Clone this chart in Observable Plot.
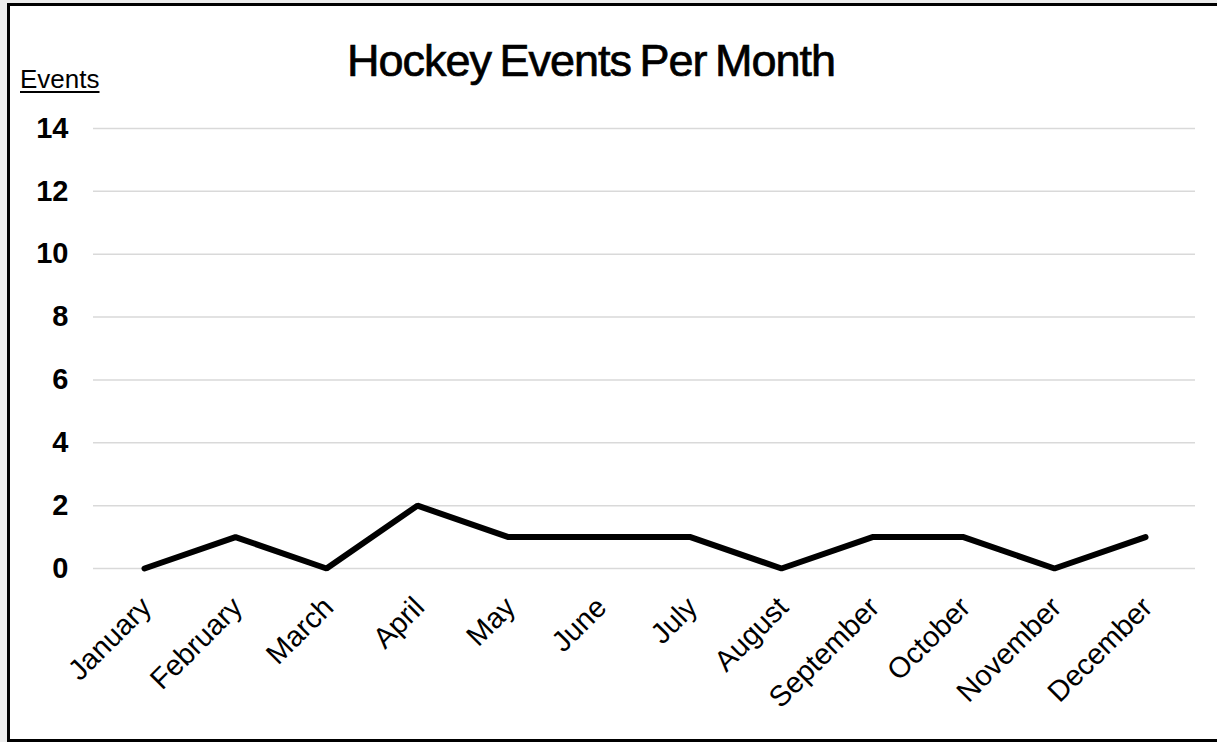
<!DOCTYPE html>
<html>
<head>
<meta charset="utf-8">
<script src="https://cdn.jsdelivr.net/npm/d3@7"></script>
<script src="https://cdn.jsdelivr.net/npm/@observablehq/plot@0.6"></script>
<style>
  html, body { margin: 0; padding: 0; }
  body { width: 1217px; height: 742px; background: #ececec; position: relative; overflow: hidden;
         font-family: "Liberation Sans", Arial, Helvetica, sans-serif; }
  #frame { position: absolute; left: 7px; top: 3px; width: 1213px; height: 739px; box-sizing: border-box;
           border: 3px solid #000; background: #fff; }
  #title { position: absolute; left: 591px; top: 38px; transform: translateX(-50%); white-space: nowrap;
           font-size: 45px; line-height: 45px; letter-spacing: -1px; word-spacing: -3px; color: #000;
           -webkit-text-stroke: 0.7px #000; }
  #ylabel { position: absolute; left: 20px; top: 66px; font-size: 26px; line-height: 26px;
            text-decoration: underline; text-underline-offset: 3px; text-decoration-thickness: 2px; color: #000; }
  #chart { position: absolute; left: 0; top: 0; }
  #chart svg { overflow: visible; }
  g[aria-label="y-axis tick label"] text { font-weight: bold !important; font-size: 29px !important; }
  g[aria-label="x-axis tick label"] text { font-size: 29px !important; }
</style>
</head>
<body>
<div id="frame"></div>
<div id="chart"></div>
<div id="title">Hockey Events Per Month</div>
<div id="ylabel">Events</div>
<script>
const months = ["January","February","March","April","May","June","July","August","September","October","November","December"];
const events = [0, 1, 0, 2, 1, 1, 1, 0, 1, 1, 0, 1];
const yTicks = [0, 2, 4, 6, 8, 10, 12, 14];

const data = months.map((m, i) => ({month: m, events: events[i]}));

const chart = Plot.plot({
  width: 1217,
  height: 742,
  marginLeft: 93,
  marginRight: 22,
  marginTop: 128,
  marginBottom: 174,
  style: {background: "transparent", fontFamily: "'Liberation Sans', Arial, Helvetica, sans-serif", color: "#000"},
  x: {type: "point", domain: months, padding: 0.5},
  y: {domain: [0, 14]},
  marks: [
    Plot.ruleY(yTicks, {stroke: "#d9d9d9", strokeWidth: 1.5}),
    Plot.axisY(yTicks, {tickSize: 0, tickPadding: 25, fontSize: 29, fontWeight: "bold", label: null, fill: "#000"}),
    Plot.axisX({tickSize: 0, tickPadding: 34, tickRotate: -45, fontSize: 29, label: null, fill: "#000", dx: 2}),
    Plot.line(data, {x: "month", y: "events", stroke: "#000", strokeWidth: 6, strokeLinejoin: "miter"})
  ]
});
document.getElementById("chart").appendChild(chart);
</script>
</body>
</html>
